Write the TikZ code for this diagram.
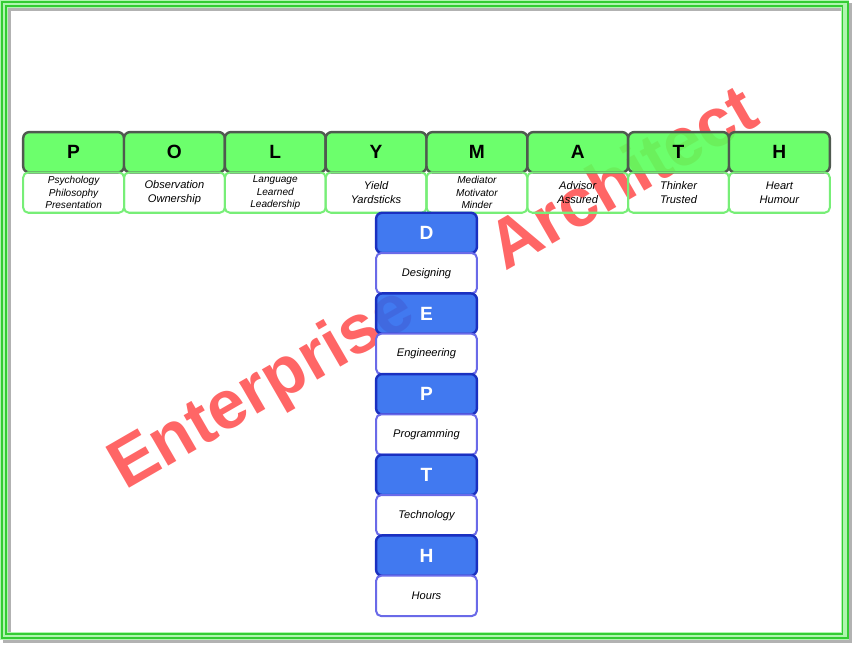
\documentclass[tikz,border=0pt]{standalone}
\usepackage{fontspec}
\setmainfont{Liberation Sans}
\definecolor{gfill}{HTML}{5CFF5C}
\definecolor{gdraw}{HTML}{4F5A4F}
\definecolor{gdesc}{HTML}{77EE77}
\definecolor{bfill}{HTML}{2C6AEE}
\definecolor{bdraw}{HTML}{1A30C0}
\definecolor{bdesc}{HTML}{6A6AE8}
\definecolor{wm}{HTML}{FF6666}
\definecolor{framelight}{HTML}{B0F5B0}
\definecolor{framedark}{HTML}{33CC33}
\begin{document}
\begin{tikzpicture}[x=1pt,y=-1pt,
  letterg/.style={draw=gdraw, fill=gfill, fill opacity=0.9, text opacity=1, line width=2.4pt,
    rounded corners=6pt, minimum width=100pt, minimum height=40pt, inner sep=0pt,
    font=\fontsize{19}{19}\selectfont\bfseries, text=black},
  descg/.style={draw=gdesc, line width=2pt, rounded corners=5pt, minimum width=100pt,
    minimum height=40pt, inner sep=0pt, align=center, text=black,
    font=\fontsize{11}{14}\selectfont\itshape},
  descgs/.style={descg, font=\fontsize{10}{12.5}\selectfont\itshape},
  letterb/.style={draw=bdraw, fill=bfill, fill opacity=0.9, text opacity=1, line width=2.4pt,
    rounded corners=6pt, minimum width=100pt, minimum height=40pt, inner sep=0pt,
    font=\fontsize{19}{19}\selectfont\bfseries, text=white},
  descb/.style={draw=bdesc, fill=white, line width=2pt, rounded corners=5pt, minimum width=100pt,
    minimum height=40pt, inner sep=0pt, align=center, text=black,
    font=\fontsize{11}{14}\selectfont\itshape}
]
\useasboundingbox (0,0) rectangle (848,640);
% frame
\draw[gray!60, line width=8pt] (7,7) rectangle (841.5,633.5);
\draw[framelight, line width=8pt] (4,4) rectangle (838.5,630.5);
\draw[framedark, line width=1.6pt] (2,2) rectangle (841,633);
\draw[framedark, line width=1.6pt] (6,6) rectangle (835.5,629);
% watermark
\node[rotate=30, anchor=base west, text=wm, inner sep=0pt, font=\fontsize{68}{68}\selectfont\bfseries] (wmark) at (124,487) {Enterprise\hspace{99pt}Architect};
% top row
\node[letterg] (lP) at (73,151) {P};
\node[letterg] (lO) at (173,151) {O};
\node[letterg] (lL) at (273,151) {L};
\node[letterg] (lY) at (373,151) {Y};
\node[letterg] (lM) at (473,151) {M};
\node[letterg] (lA) at (573,151) {A};
\node[letterg] (lT) at (673,151) {T};
\node[letterg] (lH) at (773,151) {H};
\node[descgs] (dP) at (73,191) {Psychology\\Philosophy\\Presentation};
\node[descg] (dO) at (173,191) {Observation\\Ownership};
\node[descgs] (dL) at (273,191) {Language\\Learned\\Leadership};
\node[descg] (dY) at (373,191) {Yield\\Yardsticks};
\node[descgs] (dM) at (473,191) {Mediator\\Motivator\\Minder};
\node[descg] (dA) at (573,191) {Advisor\\Assured};
\node[descg] (dT) at (673,191) {Thinker\\Trusted};
\node[descg] (dH) at (773,191) {Heart\\Humour};
% column
\node[letterb] (bD) at (423,231) {D};
\node[descb] (eD) at (423,271) {Designing};
\node[letterb] (bE) at (423,311) {E};
\node[descb] (eE) at (423,351) {Engineering};
\node[letterb] (bP) at (423,391) {P};
\node[descb] (eP) at (423,431) {Programming};
\node[letterb] (bT) at (423,471) {T};
\node[descb] (eT) at (423,511) {Technology};
\node[letterb] (bH) at (423,551) {H};
\node[descb] (eH) at (423,591) {Hours};
\end{tikzpicture}
\end{document}
